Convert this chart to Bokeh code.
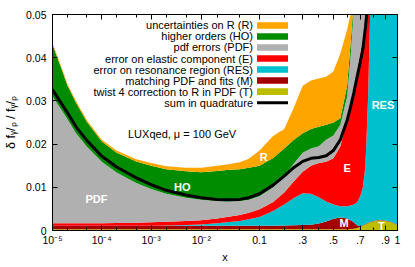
import numpy as np
from bokeh.plotting import figure
from bokeh.models import Range1d, FixedTicker, CustomJSTickFormatter, LinearAxis
from bokeh.core.properties import value
from bokeh.embed import file_html
from bokeh.resources import INLINE

# ---------------- data (values in units of 1e-3, cumulative band tops) ----------------
x = [1e-5, 1.5e-5, 2e-5, 3e-5, 5e-5, 1e-4, 2e-4, 5e-4, 1e-3, 2e-3, 5e-3, 1e-2, 2e-2, 3e-2,
     5e-2, 7e-2, 0.1, 0.15, 0.2, 0.25, 0.3, 0.35, 0.4, 0.45, 0.5, 0.55, 0.6, 0.625, 0.65,
     0.675, 0.7, 0.72, 0.74, 0.76, 0.78, 0.8, 0.85, 0.9, 0.95, 1.0]

top_T = [0.3] * 27 + [0.35, 0.4, 0.6, 0.8, 1.1, 1.4, 1.7, 1.9, 2.1, 2.4, 2.2, 1.9, 1.2]
top_M = [1.1] * 18 + [1.15, 1.2, 1.25, 1.35, 1.6, 2.1, 2.7, 3.0, 2.8, 2.4, 1.9, 1.2, 1.0,
                      1.2, 1.5, 1.8, 2.0, 2.2, 2.5, 2.3, 2.0, 1.3]
top_RES = [1.1] * 9 + [1.15, 1.25, 1.4, 1.7, 1.9, 2.2, 2.6, 3.1, 4.5, 6.0, 7.5, 8.6, 8.5,
                       7.7, 6.7, 6.0, 5.6, 5.6, 5.8, 6.0, 6.5, 8.0, 10.0, 15.0, 30.0, 53.0,
                       70.0, 80.0, 90.0, 100.0, 110.0]
top_E = [1.7, 1.7, 1.7, 1.7, 1.7, 1.7, 1.75, 1.8, 1.9, 2.0, 2.2, 2.4, 2.8, 3.1, 3.6, 4.1,
         4.9, 6.6, 8.8, 11.4, 13.6, 15.0, 15.6, 15.9, 16.7, 19.5, 25.5, 28.5, 32.5, 37.0,
         41.0, 44.0, 48.5, 60.0, 70.0, 80.0, 90.0, 100.0, 110.0, 120.0]
top_PDF = [31.0, 28.0, 25.8, 22.5, 19.4, 15.9, 13.4, 11.0, 9.6, 8.5, 7.6, 7.1, 6.8, 6.7,
           6.8, 7.1, 7.9, 10.0, 12.5, 15.5, 18.0, 19.0, 19.5, 21.0, 22.0, 24.5, 31.0, 40.0,
           51.0, 60.0, 70.0, 75.0, 80.0, 85.0, 90.0, 95.0, 100.0, 110.0, 120.0, 130.0]
top_HO = [43.0, 37.6, 33.6, 29.6, 25.1, 20.6, 18.0, 16.0, 15.0, 14.2, 13.7, 13.5, 13.8, 14.0,
          14.2, 14.5, 15.0, 16.8, 19.0, 21.0, 22.5, 23.5, 24.0, 24.5, 25.0, 26.0, 33.5, 43.0,
          53.0, 62.0, 72.0, 78.0, 84.0, 90.0, 95.0, 100.0, 110.0, 120.0, 130.0, 140.0]
top_R = [43.4, 38.0, 34.0, 30.0, 25.5, 21.0, 18.5, 16.5, 15.6, 14.9, 14.5, 14.5, 15.0, 15.3,
         15.8, 16.6, 18.5, 21.9, 23.5, 28.5, 33.5, 34.7, 35.2, 35.6, 36.8, 41.0, 46.5, 50.0,
         55.0, 65.0, 75.0, 80.0, 86.0, 92.0, 97.0, 102.0, 112.0, 122.0, 132.0, 142.0]
quad_sum = [32.6, 29.5, 27.3, 24.0, 20.8, 17.2, 14.7, 12.2, 10.6, 9.3, 8.2, 7.6, 7.2, 7.1,
            7.2, 7.6, 8.5, 10.5, 12.6, 14.6, 16.0, 16.7, 16.9, 17.3, 18.5, 21.0, 25.5, 28.5,
            31.8, 35.5, 39.0, 42.0, 47.0, 53.0, 60.0, 67.0, 80.0, 95.0, 110.0, 125.0]

x_major = [1e-5, 1e-4, 1e-3, 1e-2, 0.1, 0.3, 0.5, 0.7, 0.9, 1.0]
x_major_labels = ["10\u207b\u2075", "10\u207b\u2074", "10\u207b\u00b3", "10\u207b\u00b2",
                  "0.1", ".3", ".5", ".7", ".9", "1"]
x_minor = [2e-5, 5e-5, 2e-4, 5e-4, 2e-3, 5e-3, 2e-2, 5e-2, 0.2, 0.4, 0.6, 0.8]
y_ticks = [0.0, 0.01, 0.02, 0.03, 0.04, 0.05]

legend_labels = ["uncertainties on R (R)", "higher orders (HO)", "pdf errors (PDF)",
                 "error on elastic component (E)", "error on resonance region (RES)",
                 "matching PDF and fits (M)", "twist 4 correction to R in PDF (T)",
                 "sum in quadrature"]

# ---------------- styling ----------------
C_R, C_HO, C_PDF, C_E = "#FFA500", "#008C00", "#B0B0B0", "#FF0000"
C_RES, C_M, C_T = "#00C0CE", "#A50000", "#BDBD00"
FONT = "Liberation Sans"


def xs(v):
    """plot coordinate used for the x axis (log-like near 0, stretched near 1)"""
    v = np.asarray(v, dtype=float)
    return np.log10(v) + 2.0 * v


X = xs(x)
sc = 1e-3
yT, yM, yRES, yE = [np.array(a) * sc for a in (top_T, top_M, top_RES, top_E)]
yPDF, yHO, yR, yQ = [np.array(a) * sc for a in (top_PDF, top_HO, top_R, quad_sum)]

U0, U1 = float(xs(1e-5)), float(xs(1.0))
W, H = 413, 265
BL, BR, BT, BB = 52, 16, 14, 33
FW, FH = W - BL - BR, H - BT - BB


def hx(px):  # frame pixel -> data x
    return U0 + px * (U1 - U0) / FW


def vy(py):  # frame pixel (from top) -> data y
    return 0.05 - py * 0.05 / FH


p = figure(width=W, height=H, output_backend="svg", toolbar_location=None,
           x_range=Range1d(U0, U1), y_range=Range1d(0, 0.05),
           min_border_left=BL, min_border_right=BR, min_border_top=BT, min_border_bottom=BB)
p.xgrid.visible = False
p.ygrid.visible = False
p.outline_line_color = "black"
p.outline_line_width = 1
p.background_fill_color = "white"

# bands
lower = np.zeros_like(X)
for top, col in [(yT, C_T), (yM, C_M), (yRES, C_RES), (yE, C_E), (yPDF, C_PDF), (yHO, C_HO), (yR, C_R)]:
    p.varea(x=X, y1=lower, y2=top, fill_color=col)
    lower = top

p.line(X, yQ, line_color="black", line_width=3)

# axes
xt_major = [float(v) for v in xs(x_major)]
xt_minor = [float(v) for v in xs(x_minor)]
fmt_x = CustomJSTickFormatter(args=dict(vals=xt_major, labs=x_major_labels), code="""
let best = ''; let bd = 1e9;
for (let i = 0; i < vals.length; i++) { const d = Math.abs(vals[i] - tick); if (d < bd) { bd = d; best = labs[i]; } }
return best;""")
fmt_y = CustomJSTickFormatter(code="return tick < 1e-9 ? '0' : tick.toFixed(2);")
fmt_none = CustomJSTickFormatter(code="return '';")

ax = p.xaxis[0]
ax.ticker = FixedTicker(ticks=xt_major, minor_ticks=xt_minor)
ax.formatter = fmt_x
ay = p.yaxis[0]
ay.ticker = FixedTicker(ticks=y_ticks)
ay.formatter = fmt_y
for a in (ax, ay):
    a.major_tick_in = 5
    a.major_tick_out = 0
    a.minor_tick_in = 3
    a.minor_tick_out = 0
    a.axis_line_color = "black"
    a.major_tick_line_color = "black"
    a.minor_tick_line_color = "black"
    a.major_label_text_font = FONT
    a.major_label_text_font_size = "10.5px"
    a.major_label_text_color = "black"
    a.axis_label_text_font = FONT
    a.axis_label_text_font_size = "11px"
    a.axis_label_text_font_style = "normal"
    a.axis_label_text_color = "black"
ay.minor_tick_line_color = None
ax.major_label_standoff = 3
ax.axis_label = "x"
ax.axis_label_standoff = 2
ay.major_label_standoff = 6
ay.axis_label = "\u03b4 f\u1d67/\u209a / f\u1d67/\u209a"
ay.axis_label_text_font_size = "12.5px"
ay.axis_label_standoff = 5

top_ax = LinearAxis(ticker=FixedTicker(ticks=xt_major, minor_ticks=xt_minor), formatter=fmt_none)
right_ax = LinearAxis(ticker=FixedTicker(ticks=y_ticks), formatter=fmt_none)
for a in (top_ax, right_ax):
    a.major_tick_in = 5
    a.major_tick_out = 0
    a.minor_tick_in = 3
    a.minor_tick_out = 0
    a.major_label_standoff = 0
    a.axis_line_color = "black"
right_ax.minor_tick_line_color = None
p.add_layout(top_ax, "above")
p.add_layout(right_ax, "right")

# band labels
band_lbl = dict(text=["PDF", "HO", "R", "E", "RES", "M", "T"],
                x=list(xs([7.8e-5, 4.2e-3, 0.114, 0.6, 0.88, 0.578, 0.868])),
                y=[0.0073, 0.0100, 0.0170, 0.0145, 0.0290, 0.0018, 0.0011])
p.text(x=band_lbl["x"], y=band_lbl["y"], text=band_lbl["text"], text_color="white",
       text_font=value(FONT), text_font_style="bold", text_font_size="11px",
       text_align="center", text_baseline="middle")

# LUXqed caption
p.text(x=[hx(75.5)], y=[vy(121)], text=["LUXqed, \u03bc = 100 GeV"], text_font=value(FONT),
       text_font_size="11px", text_baseline="middle", text_align="left", text_color="black")

# legend (text right aligned, swatch to the right)
rows = [11 + 11.14 * i for i in range(8)]
p.text(x=[hx(200.5)] * 8, y=[vy(r) for r in rows], text=legend_labels, text_color="black",
       text_font=value(FONT), text_font_size="11px", text_align="right", text_baseline="middle")
sw_cols = [C_R, C_HO, C_PDF, C_E, C_RES, C_M, C_T]
p.quad(left=[hx(204.5)] * 7, right=[hx(235.5)] * 7,
       top=[vy(r - 3.3) for r in rows[:7]], bottom=[vy(r + 3.3) for r in rows[:7]],
       fill_color=sw_cols, line_color=None)
p.segment(x0=[hx(204.5)], x1=[hx(235.5)], y0=[vy(rows[7])], y1=[vy(rows[7])],
          line_color="black", line_width=3)

open("out.html", "w").write(file_html(p, INLINE))
